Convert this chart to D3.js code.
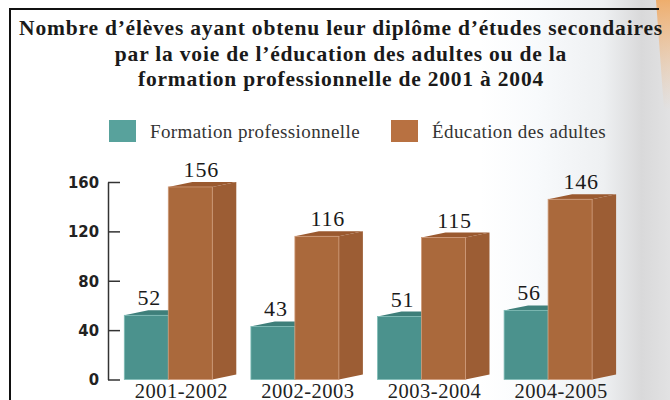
<!DOCTYPE html>
<html>
<head>
<meta charset="utf-8">
<script src="https://cdn.jsdelivr.net/npm/d3@7"></script>
<style>
body{margin:0;padding:0;background:#fff;}
svg{display:block;}
</style>
</head>
<body>
<svg id="chart"></svg>
<script>
var width=670;
var height=400;

var titleLines=["Nombre d’élèves ayant obtenu leur diplôme d’études secondaires",
                "par la voie de l’éducation des adultes ou de la",
                "formation professionnelle de 2001 à 2004"];
var years=["2001-2002","2002-2003","2003-2004","2004-2005"];
var series=["Formation professionnelle","Éducation des adultes"];
var formation=[52,43,51,56];
var adultes=[156,116,115,146];
var yTicks=[0,40,80,120,160];

var front={"Formation professionnelle":"#4b928d","Éducation des adultes":"#aa693c"};
var topc={"Formation professionnelle":"#3e7f7a","Éducation des adultes":"#9a592f"};
var side={"Formation professionnelle":"#3f817c","Éducation des adultes":"#9c5d34"};
var edge={"Formation professionnelle":"#7fbcb6","Éducation des adultes":"#cf9a78"};
var legendc={"Formation professionnelle":"#58a29c","Éducation des adultes":"#b87141"};

var depthX=24, depthY=5;
var serif="'Liberation Serif','Times New Roman',serif";

var svg=d3.select("#chart").attr("width",width).attr("height",height);
var defs=svg.append("defs");

// background shading on the right
var g1=defs.append("linearGradient").attr("id","shade").attr("x1","0").attr("x2","1").attr("y1","0").attr("y2","0");
g1.append("stop").attr("offset","0").attr("stop-color","#ffffff");
g1.append("stop").attr("offset","0.3").attr("stop-color","#f8fafc");
g1.append("stop").attr("offset","0.65").attr("stop-color","#eef0f2");
g1.append("stop").attr("offset","0.85").attr("stop-color","#d9d9da");
g1.append("stop").attr("offset","1").attr("stop-color","#e2e2e3");
svg.append("rect").attr("x",0).attr("y",0).attr("width",width).attr("height",height).attr("fill","#fff");
svg.append("rect").attr("x",480).attr("y",0).attr("width",190).attr("height",height).attr("fill","url(#shade)");

var g2=defs.append("linearGradient").attr("id","orng").attr("x1","0").attr("x2","0").attr("y1","0").attr("y2","1");
g2.append("stop").attr("offset","0").attr("stop-color","#f0a860").attr("stop-opacity",0.9);
g2.append("stop").attr("offset","1").attr("stop-color","#f5c090").attr("stop-opacity",0);
svg.append("path").attr("d","M656,0 L670,0 L670,110 L664,110 Z").attr("fill","url(#orng)");

// frame
svg.append("path").attr("d","M10,400 L10,9 L659,9")
   .attr("fill","none").attr("stroke","#111").attr("stroke-width",2);

// title
svg.append("g").selectAll("text")
   .data(titleLines)
   .enter()
   .append("text")
   .attr("x",341)
   .attr("y",function(d,i){return 35+i*25.5;})
   .attr("text-anchor","middle")
   .attr("font-family",serif)
   .attr("font-weight","bold")
   .attr("font-size",21.5)
   .attr("letter-spacing",0.8)
   .attr("fill","#1a1a1a")
   .text(function(d){return d;});

// legend
var legX=[109,391];
var leg=svg.append("g").selectAll("g")
   .data(series)
   .enter()
   .append("g")
   .attr("transform",function(d,i){return "translate("+legX[i]+",120)";});
leg.append("rect").attr("width",27).attr("height",22).attr("fill",function(d){return legendc[d];});
leg.append("text").attr("x",41).attr("y",17.5)
   .attr("font-family",serif)
   .attr("font-size",19)
   .attr("letter-spacing",0.4)
   .attr("fill","#333")
   .text(function(d){return d;});

// scales
var yScale=d3.scaleLinear().domain([0,160]).range([379.5,182]);
var x0=d3.scaleBand().domain(years).range([124.3,592.1]).paddingInner(0.305).paddingOuter(0);
var x1=d3.scaleBand().domain(series).range([0,x0.bandwidth()]).padding(0);

var rows=years.map(function(y,i){
  return {year:y,values:[{key:series[0],value:formation[i]},{key:series[1],value:adultes[i]}]};
});

// y axis
var yAxis=d3.axisLeft(yScale).tickValues(yTicks).tickSizeInner(-12).tickSizeOuter(0).tickPadding(9);
var ax=svg.append("g")
   .classed("yAxis",true)
   .attr("transform","translate(108,0)")
   .call(yAxis);
ax.select(".domain").attr("stroke","#333").attr("stroke-width",1.5);
ax.selectAll(".tick line").attr("stroke","#333").attr("stroke-width",1.5);
ax.selectAll(".tick text")
  .attr("font-family","'Liberation Sans Narrow','DejaVu Sans Condensed',sans-serif")
  .attr("font-weight","bold")
  .attr("font-size",16.5)
  .attr("fill","#222");

// bars (3D)
var groups=svg.append("g").selectAll("g")
   .data(rows)
   .enter()
   .append("g")
   .attr("transform",function(d){return "translate("+x0(d.year)+",0)";});

var bars=groups.selectAll("g")
   .data(function(d){return d.values;})
   .enter()
   .append("g");

// side face
bars.append("path")
   .attr("d",function(d){
     var xa=x1(d.key)+x1.bandwidth(), y0=yScale(0), yt=yScale(d.value);
     return "M"+xa+","+y0+"L"+(xa+depthX)+","+(y0-depthY)+"L"+(xa+depthX)+","+(yt-depthY)+"L"+xa+","+yt+"Z";
   })
   .attr("fill",function(d){return side[d.key];});
// top face
bars.append("path")
   .attr("d",function(d){
     var xa=x1(d.key), xb=xa+x1.bandwidth(), yt=yScale(d.value);
     return "M"+xa+","+yt+"L"+(xa+depthX)+","+(yt-depthY)+"L"+(xb+depthX)+","+(yt-depthY)+"L"+xb+","+yt+"Z";
   })
   .attr("fill",function(d){return topc[d.key];});
// front face
bars.append("rect")
   .attr("x",function(d){return x1(d.key);})
   .attr("y",function(d){return yScale(d.value);})
   .attr("width",x1.bandwidth())
   .attr("height",function(d){return yScale(0)-yScale(d.value);})
   .attr("fill",function(d){return front[d.key];})
   .attr("stroke",function(d){return edge[d.key];})
   .attr("stroke-width",0.8);

// orange bars above teal so they cover the teal side
groups.each(function(){
  d3.select(this).selectAll(":scope > g")
    .filter(function(d){return d.key===series[1];})
    .raise();
});

// value labels
var labelShift={"Formation professionnelle":3,"Éducation des adultes":11};
bars.append("text")
   .attr("x",function(d){return x1(d.key)+x1.bandwidth()/2+labelShift[d.key];})
   .attr("y",function(d){return yScale(d.value)-10;})
   .attr("text-anchor","middle")
   .attr("font-family",serif)
   .attr("font-size",22)
   .attr("letter-spacing",0.8)
   .attr("fill","#1a1a1a")
   .text(function(d){return d.value;});

// category labels
groups.append("text")
   .attr("x",x0.bandwidth()/2+13)
   .attr("y",398)
   .attr("text-anchor","middle")
   .attr("font-family",serif)
   .attr("font-size",20.5)
   .attr("letter-spacing",0.5)
   .attr("fill","#222")
   .text(function(d){return d.year;});
</script>
</body>
</html>
